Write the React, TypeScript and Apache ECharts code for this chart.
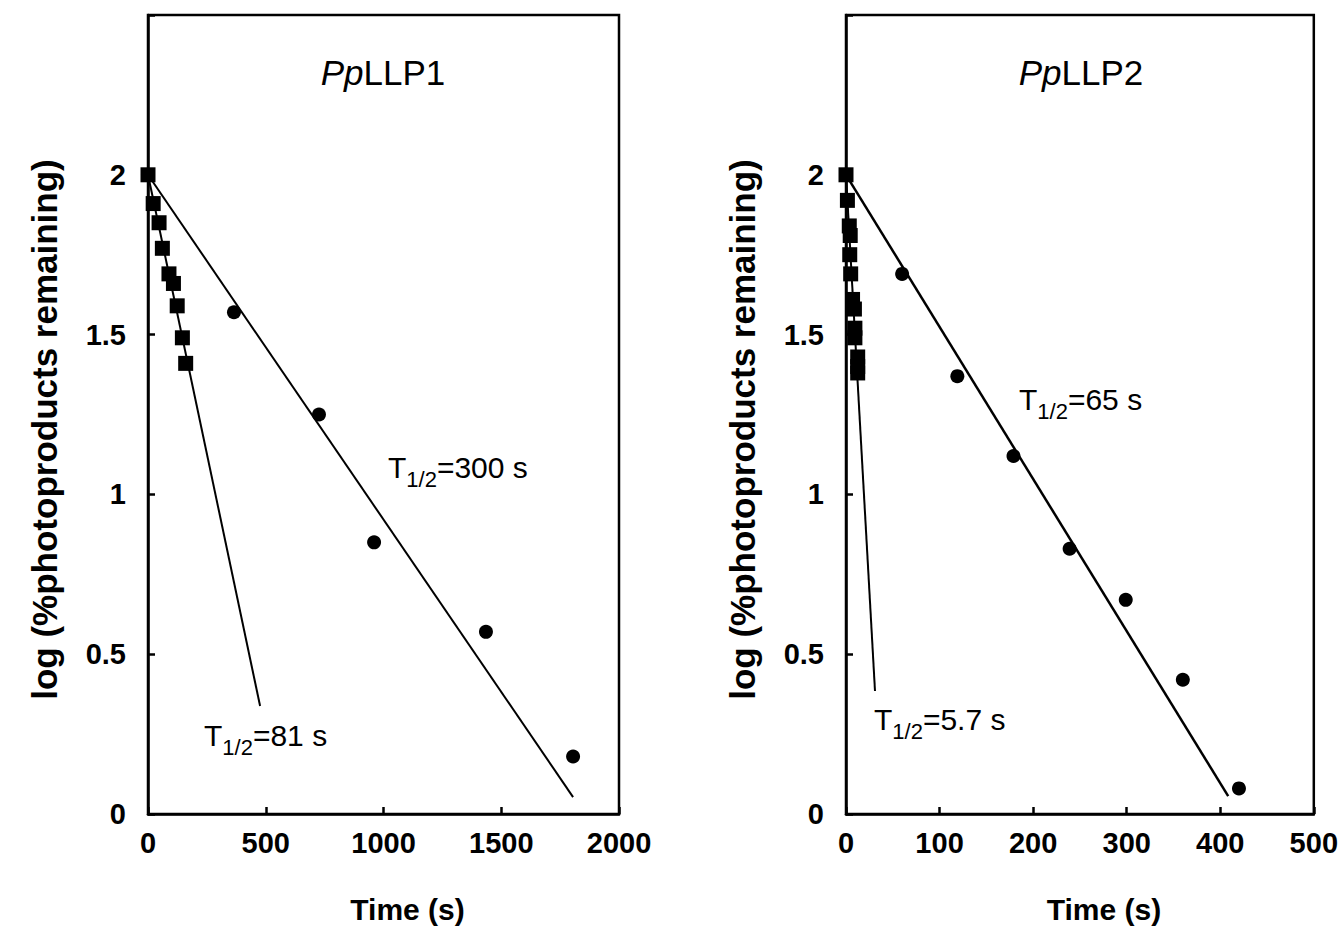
import React, { useEffect, useRef } from "react";
import * as echarts from "echarts";

// ---- data ----
// PpLLP1
const p1SquareTime = [0, 22, 47, 61, 89, 108, 124, 146, 160];
const p1SquareLog = [2.0, 1.91, 1.85, 1.77, 1.69, 1.66, 1.59, 1.49, 1.41];
const p1CircleTime = [0, 365, 726, 960, 1435, 1805];
const p1CircleLog = [2.0, 1.57, 1.25, 0.85, 0.57, 0.18];
const p1FastFitTime = [0, 476];
const p1FastFitLog = [2.0, 0.338];
const p1SlowFitTime = [0, 1805];
const p1SlowFitLog = [2.0, 0.053];

// PpLLP2
const p2SquareTime = [0, 1.5, 3.5, 4.5, 4, 5, 7, 9, 9.5, 9.5, 12.5, 12.5, 12.5];
const p2SquareLog = [2.0, 1.92, 1.84, 1.81, 1.75, 1.69, 1.61, 1.58, 1.52, 1.49, 1.43, 1.4, 1.38];
const p2CircleTime = [0, 60, 119, 179, 239, 299, 360, 420];
const p2CircleLog = [2.0, 1.69, 1.37, 1.12, 0.83, 0.67, 0.42, 0.08];
const p2FastFitTime = [0, 31];
const p2FastFitLog = [2.0, 0.385];
const p2SlowFitTime = [0, 408.5];
const p2SlowFitLog = [2.0, 0.056];

const yTicks = [0, 0.5, 1, 1.5, 2];
const titles = ["LLP1", "LLP2"];
const halfLives = ["300", "81", "65", "5.7"];

const FONT = "'Liberation Sans', Arial, Helvetica, sans-serif";

const zip = (a: number[], b: number[]) => a.map((v, i) => [v, b[i]]);

export default function App() {
  const ref = useRef<HTMLDivElement>(null);
  useEffect(() => {
    document.body.style.margin = "0";
    const chart = echarts.init(ref.current!, null, { renderer: "svg" });

    const gridCommon = {
      top: 15,
      height: 800,
      show: true,
      borderColor: "#000",
      borderWidth: 2.5,
      backgroundColor: "transparent",
    };

    const xAxis = (idx: number, max: number, interval: number) => ({
      type: "value",
      gridIndex: idx,
      min: 0,
      max,
      interval,
      splitLine: { show: false },
      axisLine: { show: true, lineStyle: { color: "#000", width: 2.5 } },
      axisTick: { show: true, inside: true, length: 7, lineStyle: { color: "#000", width: 2.5 } },
      axisLabel: {
        color: "#000",
        fontFamily: FONT,
        fontWeight: "bold",
        fontSize: 29,
        margin: 14,
        formatter: (v: number) => String(v),
      },
      name: "Time (s)",
      nameLocation: "middle",
      nameGap: 80,
      nameTextStyle: { color: "#000", fontFamily: FONT, fontWeight: "bold", fontSize: 30, padding: [0, 0, 0, 48] },
    });

    const yAxis = (idx: number) => ({
      type: "value",
      gridIndex: idx,
      min: 0,
      max: 2.5,
      interval: 0.5,
      splitLine: { show: false },
      axisLine: { show: true, lineStyle: { color: "#000", width: 2.5 } },
      axisTick: { show: true, inside: true, length: 7, lineStyle: { color: "#000", width: 2.5 } },
      axisLabel: {
        color: "#000",
        fontFamily: FONT,
        fontWeight: "bold",
        fontSize: 29,
        margin: 22,
        formatter: (v: number) => (yTicks.includes(v) ? String(v) : ""),
      },
      name: "log (%photoproducts remaining)",
      nameLocation: "middle",
      nameGap: 86,
      nameTextStyle: { color: "#000", fontFamily: FONT, fontWeight: "bold", fontSize: 35, padding: [0, 30, 0, 0] },
    });

    const squares = (idx: number, t: number[], v: number[]) => ({
      type: "scatter",
      xAxisIndex: idx,
      yAxisIndex: idx,
      symbol: "rect",
      symbolSize: 15,
      itemStyle: { color: "#000", opacity: 1 },
      data: zip(t, v),
      z: 5,
    });
    const circles = (idx: number, t: number[], v: number[]) => ({
      type: "scatter",
      xAxisIndex: idx,
      yAxisIndex: idx,
      symbol: "circle",
      symbolSize: 14,
      itemStyle: { color: "#000", opacity: 1 },
      data: zip(t, v),
      z: 4,
    });
    const fit = (idx: number, t: number[], v: number[], w: number) => ({
      type: "line",
      xAxisIndex: idx,
      yAxisIndex: idx,
      showSymbol: false,
      symbol: "none",
      lineStyle: { color: "#000", width: w },
      data: zip(t, v),
      z: 3,
    });

    const tRich = {
      t: { fontSize: 30, lineHeight: 30, verticalAlign: "top", fontFamily: FONT, fill: "#000" },
      s: { fontSize: 22, lineHeight: 22, padding: [16, 0, 0, 0], verticalAlign: "top", fontFamily: FONT, fill: "#000" },
    };
    const halfLifeText = (x: number, y: number, val: string) => ({
      type: "text",
      left: x,
      top: y,
      style: {
        text: `{t|T}{s|1/2}{t|=${val} s}`,
        rich: tRich,
        fill: "#000",
      },
    });
    const titleText = (cx: number, name: string) => ({
      type: "text",
      x: cx,
      y: 72,
      style: {
        text: `{i|Pp}{n|${name}}`,
        align: "center",
        verticalAlign: "middle",
        rich: {
          i: { fontSize: 35, fontStyle: "italic", fontFamily: FONT, fill: "#000" },
          n: { fontSize: 35, fontFamily: FONT, fill: "#000" },
        },
      },
    });

    chart.setOption({
      animation: false,
      backgroundColor: "#fff",
      grid: [
        { ...gridCommon, left: 148, width: 471 },
        { ...gridCommon, left: 846, width: 470 },
      ],
      xAxis: [xAxis(0, 2000, 500), xAxis(1, 500, 100)],
      yAxis: [yAxis(0), yAxis(1)],
      series: [
        fit(0, p1FastFitTime, p1FastFitLog, 2),
        fit(0, p1SlowFitTime, p1SlowFitLog, 2),
        squares(0, p1SquareTime, p1SquareLog),
        circles(0, p1CircleTime, p1CircleLog),
        fit(1, p2FastFitTime, p2FastFitLog, 2),
        fit(1, p2SlowFitTime, p2SlowFitLog, 2.5),
        squares(1, p2SquareTime, p2SquareLog),
        circles(1, p2CircleTime, p2CircleLog),
      ],
      graphic: [
        titleText(383, titles[0]),
        titleText(1081, titles[1]),
        halfLifeText(388, 452, halfLives[0]),
        halfLifeText(204, 720, halfLives[1]),
        halfLifeText(1019, 384, halfLives[2]),
        halfLifeText(874, 704, halfLives[3]),
      ],
    });
    return () => chart.dispose();
  }, []);
  return <div ref={ref} style={{ width: 1341, height: 929, overflow: "hidden" }} />;
}
